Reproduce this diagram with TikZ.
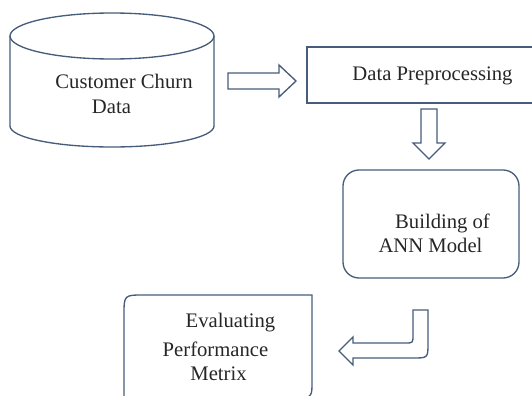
\documentclass[tikz,border=0pt]{standalone}
\usepackage{fontspec}
\setmainfont{Liberation Serif}
\usepackage{tikz}
\usetikzlibrary{
    arrows.meta,
    positioning
}
\definecolor{slateline}{RGB}{70,92,122}

\begin{document}
\begin{tikzpicture} [
    x=0.75pt, y=-0.75pt,
    edge/.style = {draw=slateline, line width=1pt, line join=miter},
    label text/.style = {inner sep=0pt, font=\fontsize{15.5}{18}\selectfont, text=black!85}
]
    \clip (0,0) rectangle (532,396);

    % database cylinder
    \draw[edge] (112,36) ellipse [x radius=102, y radius=23];
    \draw[edge] (10,36) -- (10,126) arc [start angle=180, end angle=0, x radius=102, y radius=21] -- (214,36);

    % boxes
    \draw[edge] (540,47) -- (307,47) -- (307,103) -- (540,103);
    \draw[edge, rounded corners=12pt] (343,170) rectangle (519,278);
    \draw[edge] (124,400) -- (124,315) .. controls (124,295) .. (144,295) -- (312,295) -- (312,382) .. controls (312,396) .. (300,400);

    % block arrows
    \draw[edge] (228,73) -- (279,73) -- (279,65) -- (296,81) -- (279,97) -- (279,89) -- (228,89) -- cycle;
    \draw[edge] (421,109) -- (437,109) -- (437,143) -- (445,143) -- (429,159) -- (413,143) -- (421,143) -- cycle;
    \draw[edge] (413,310) -- (428,310) -- (428,343) .. controls (428,358) .. (413,358)
        -- (353,358) -- (353,365) -- (339,351) -- (353,337) -- (353,343)
        -- (405,343) .. controls (413,343) .. (413,335) -- cycle;

    % texts
    \node[label text] (churn1) at (124,81) {Customer Churn};
    \node[label text] (churn2) at (111.5,107) {Data};
    \node[label text] (prep) at (432.5,76) {Data Preprocessing};
    \node[label text] (ann1) at (442.5,223) {Building of};
    \node[label text] (ann2) at (430.5,245) {ANN Model};
    \node[label text] (eval1) at (230.5,323) {Evaluating};
    \node[label text] (eval2) at (215.5,349) {Performance};
    \node[label text] (eval3) at (218.5,374) {Metrix};
\end{tikzpicture}
\end{document}
